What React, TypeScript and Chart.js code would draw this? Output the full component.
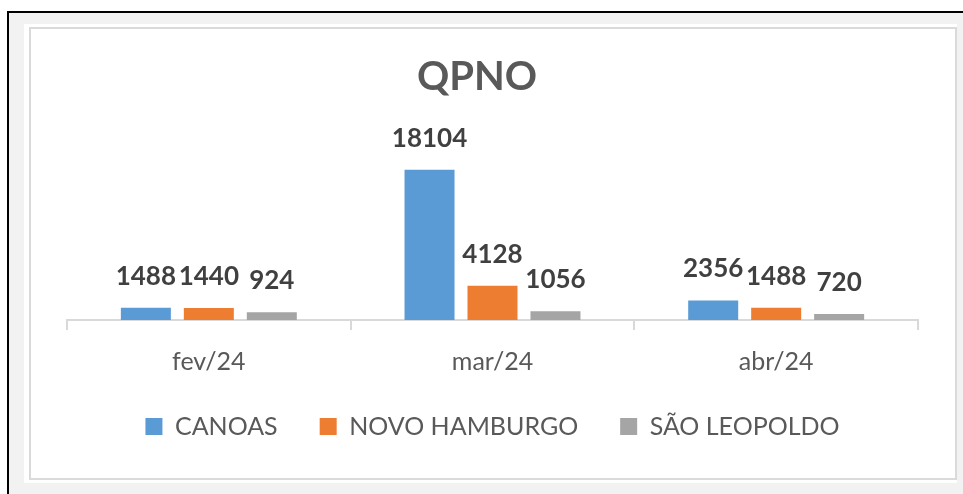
import React, { useEffect, useRef } from "react";
import { Chart, registerables } from "chart.js";

Chart.register(...registerables);

const categories = ["fev/24", "mar/24", "abr/24"];
const seriesNames = ["CANOAS", "NOVO HAMBURGO", "SÃO LEOPOLDO"];
const canoas = [1488, 18104, 2356];
const novoHamburgo = [1440, 4128, 1488];
const saoLeopoldo = [924, 1056, 720];
const colors = ["#5b9bd5", "#ed7d31", "#a5a5a5"];
const titleText = "QPNO";

const FONT = "Lato, 'Open Sans', sans-serif";

const dataLabelPlugin = {
  id: "dataLabels",
  afterDatasetsDraw(chart: any) {
    const ctx = chart.ctx;
    ctx.save();
    ctx.font = `bold 26px ${FONT}`;
    ctx.fillStyle = "#404040";
    ctx.textAlign = "center";
    ctx.textBaseline = "alphabetic";
    chart.data.datasets.forEach((ds: any, i: number) => {
      const meta = chart.getDatasetMeta(i);
      meta.data.forEach((el: any, j: number) => {
        ctx.fillText(String(ds.data[j]), el.x, el.y - 23);
      });
    });
    ctx.restore();
  },
};

const titlePlugin = {
  id: "excelTitle",
  afterDraw(chart: any) {
    const ctx = chart.ctx;
    ctx.save();
    ctx.font = `bold 40px ${FONT}`;
    ctx.fillStyle = "#595959";
    ctx.textAlign = "center";
    ctx.textBaseline = "alphabetic";
    ctx.fillText(titleText, 446, 61);
    ctx.restore();
  },
};

export default function App() {
  const ref = useRef<HTMLCanvasElement | null>(null);
  useEffect(() => {
    if (!ref.current) return;
    const series = [canoas, novoHamburgo, saoLeopoldo];
    const chart = new Chart(ref.current, {
      type: "bar",
      data: {
        labels: categories,
        datasets: series.map((d, i) => ({
          label: seriesNames[i],
          data: d,
          backgroundColor: colors[i],
          borderWidth: 0,
          categoryPercentage: 0.666,
          barPercentage: 0.794,
        })),
      },
      options: {
        animation: false,
        responsive: false,
        maintainAspectRatio: false,
        layout: { padding: { left: 36, right: 37, top: 125, bottom: 29 } },
        plugins: {
          title: { display: false },
          legend: {
            position: "bottom",
            labels: {
              color: "#595959",
              font: { family: FONT, size: 25 },
              boxWidth: 17,
              boxHeight: 17,
              padding: 42,
            },
          },
          tooltip: { enabled: false },
        },
        scales: {
          x: {
            afterFit: (s: any) => {
              s.height = 52;
            },
            grid: {
              display: true,
              drawOnChartArea: false,
              drawTicks: true,
              tickLength: 10,
              color: "#d9d9d9",
              lineWidth: 2,
              offset: true,
            },
            border: { display: true, color: "#d9d9d9", width: 2 },
            ticks: {
              color: "#595959",
              font: { family: FONT, size: 25 },
              padding: 17,
            },
          },
          y: {
            display: false,
            min: 0,
            max: 20000,
          },
        },
      },
      plugins: [dataLabelPlugin, titlePlugin],
    });
    return () => chart.destroy();
  }, []);

  return (
    <div style={{ position: "absolute", left: 0, top: 0, width: 963, height: 494, background: "#fff", overflow: "hidden" }}>
      <div
        style={{
          position: "absolute",
          left: 7,
          top: 11,
          width: 956,
          height: 483,
          background: "#f2f2f2",
          borderLeft: "2px solid #000",
          borderTop: "2px solid #000",
        }}
      />
      <div style={{ position: "absolute", left: 24, top: 24, width: 933, height: 459, background: "#fff" }} />
      <div
        style={{
          position: "absolute",
          left: 29,
          top: 27,
          width: 924,
          height: 449,
          border: "2px solid #dadada",
          background: "#fff",
        }}
      >
        <canvas ref={ref} width={924} height={449} style={{ display: "block", width: 924, height: 449 }} />
      </div>
    </div>
  );
}
